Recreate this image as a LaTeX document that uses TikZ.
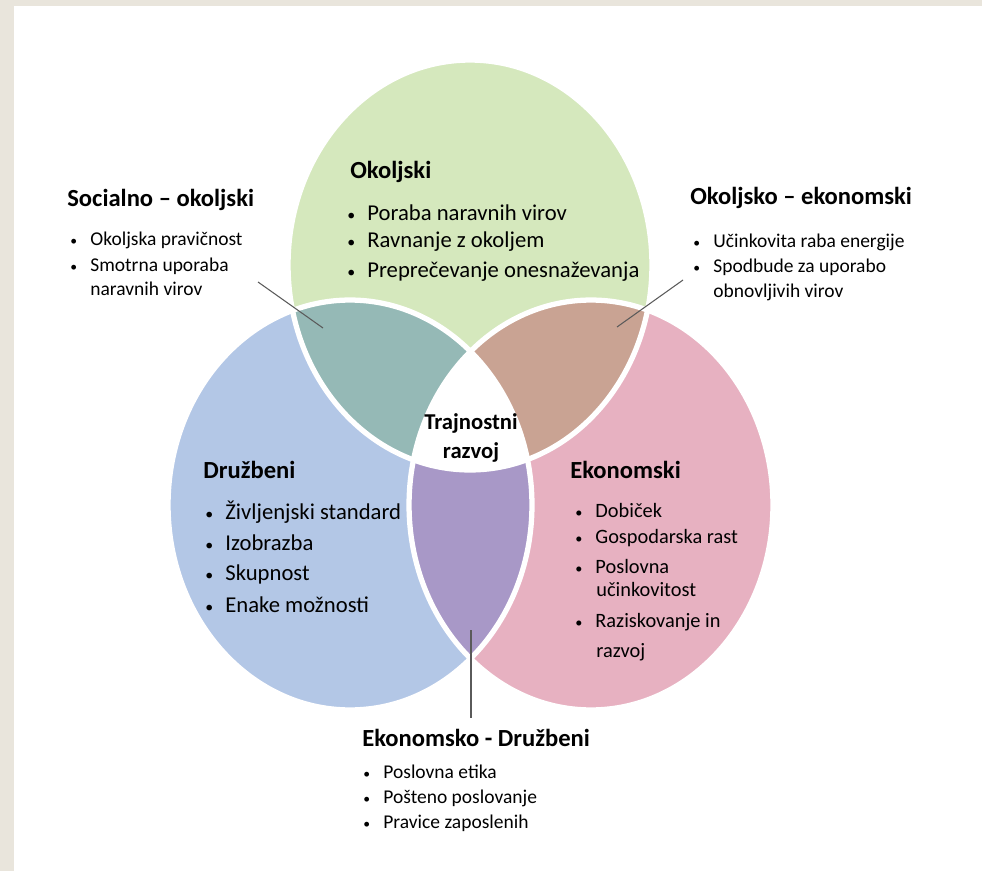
\documentclass[tikz,border=0pt]{standalone}
\usepackage{fontspec}
\setmainfont{Carlito}
\usepackage{xcolor}
\usepackage{tikz}

\definecolor{bgbeige}{HTML}{E9E5DC}
\definecolor{okgreen}{HTML}{D5E8BD}
\definecolor{drblue}{HTML}{B3C7E6}
\definecolor{ekpink}{HTML}{E7B1C1}
\definecolor{soteal}{HTML}{95B9B6}
\definecolor{oebrown}{HTML}{C9A393}
\definecolor{edpurple}{HTML}{A898C7}
\definecolor{leadgray}{HTML}{5A5A5A}

\newcommand{\bul}{\makebox[11.4pt][l]{\scalebox{0.7}{\textbullet}}}

\tikzset{
  head/.style={anchor=west, inner sep=0pt, font=\bfseries\fontsize{14}{17}\selectfont},
  item/.style={anchor=west, inner sep=0pt, font=\fontsize{12.9}{15}\selectfont},
  eitem/.style={anchor=west, inner sep=0pt, font=\fontsize{11.6}{14}\selectfont},
  sitem/.style={anchor=west, inner sep=0pt, font=\fontsize{11.1}{13}\selectfont},
  ring/.style={draw=white, line width=3pt},
  leader/.style={draw=leadgray, line width=0.6pt}
}

\begin{document}
\begin{tikzpicture}[x=0.02cm, y=-0.02cm]
        % Background and page
        \fill[bgbeige] (0,0) rectangle (982,871);
        \fill[white] (14,6) rectangle (982,871);
        \useasboundingbox (0,0) rectangle (982,871);

        % Centres of the three circles
        \coordinate (gc) at (470,265); % okoljski
        \coordinate (bc) at (350,505); % druzbeni
        \coordinate (pc) at (591,505); % ekonomski

        % Circles
        \fill[okgreen] (gc) ellipse [x radius=3.64cm, y radius=4.1cm];
        \fill[drblue] (bc) ellipse [x radius=3.64cm, y radius=4.1cm];
        \fill[ekpink] (pc) ellipse [x radius=3.64cm, y radius=4.1cm];

        % Overlaps of two circles
        \begin{scope}
          \clip (gc) ellipse [x radius=3.64cm, y radius=4.1cm];
          \fill[soteal] (bc) ellipse [x radius=3.64cm, y radius=4.1cm];
          \fill[oebrown] (pc) ellipse [x radius=3.64cm, y radius=4.1cm];
        \end{scope}
        \begin{scope}
          \clip (bc) ellipse [x radius=3.64cm, y radius=4.1cm];
          \fill[edpurple] (pc) ellipse [x radius=3.64cm, y radius=4.1cm];
        \end{scope}

        % Overlap of all three
        \begin{scope}
          \clip (gc) ellipse [x radius=3.64cm, y radius=4.1cm];
          \clip (bc) ellipse [x radius=3.64cm, y radius=4.1cm];
          \fill[white] (pc) ellipse [x radius=3.64cm, y radius=4.1cm];
        \end{scope}

        % White rims
        \draw[ring] (gc) ellipse [x radius=3.64cm, y radius=4.1cm];
        \draw[ring] (bc) ellipse [x radius=3.64cm, y radius=4.1cm];
        \draw[ring] (pc) ellipse [x radius=3.64cm, y radius=4.1cm];

        % Centre
        \node[align=center, inner sep=0pt, font=\bfseries\fontsize{12.9}{17}\selectfont] (tr) at (471,438) {Trajnostni\\razvoj};

        % Okoljski
        \node[head] (ok) at (350,172) {Okoljski};
        \node[item] (ok1) at (347,213) {\bul Poraba naravnih virov};
        \node[item] (ok2) at (347,242) {\bul Ravnanje z okoljem};
        \node[item] (ok3) at (347,272) {\bul Preprečevanje onesnaževanja};

        % Druzbeni
        \node[head] (dr) at (203,470) {Družbeni};
        \node[item] (dr1) at (205,512) {\bul Življenjski standard};
        \node[item] (dr2) at (205,543) {\bul Izobrazba};
        \node[item] (dr3) at (205,574) {\bul Skupnost};
        \node[item] (dr4) at (205,605) {\bul Enake možnosti};

        % Ekonomski
        \node[head] (ek) at (570,470) {Ekonomski};
        \node[eitem] (ek1) at (575,510) {\bul Dobiček};
        \node[eitem] (ek2) at (575,538) {\bul Gospodarska rast};
        \node[eitem] (ek3) at (575,566) {\bul Poslovna};
        \node[eitem] (ek3b) at (596,589) {učinkovitost};
        \node[eitem] (ek4) at (575,622) {\bul Raziskovanje in};
        \node[eitem] (ek4b) at (596,652) {razvoj};

        % Socialno - okoljski
        \node[head] (so) at (67,200) {Socialno – okoljski};
        \node[sitem] (so1) at (70,240) {\bul Okoljska pravičnost};
        \node[sitem] (so2) at (70,266) {\bul Smotrna uporaba};
        \node[sitem] (so2b) at (90,289) {naravnih virov};
        \coordinate (soa) at (258,282);
        \coordinate (sob) at (323,328);
        \draw[leader] (soa) -- (sob);

        % Okoljsko - ekonomski
        \node[head] (oe) at (690,198) {Okoljsko – ekonomski};
        \node[sitem] (oe1) at (693,242) {\bul Učinkovita raba energije};
        \node[sitem] (oe2) at (693,267) {\bul Spodbude za uporabo};
        \node[sitem] (oe2b) at (713,292) {obnovljivih virov};
        \coordinate (oea) at (683,280);
        \coordinate (oeb) at (617,327);
        \draw[leader] (oea) -- (oeb);

        % Ekonomsko - Druzbeni
        \node[head] (ed) at (362,738) {Ekonomsko - Družbeni};
        \node[sitem] (ed1) at (363,772) {\bul Poslovna etika};
        \node[sitem] (ed2) at (363,798) {\bul Pošteno poslovanje};
        \node[sitem] (ed3) at (363,823) {\bul Pravice zaposlenih};
        \coordinate (eda) at (471,630);
        \coordinate (edb) at (471,718);
        \draw[leader] (eda) -- (edb);
\end{tikzpicture}
\end{document}
